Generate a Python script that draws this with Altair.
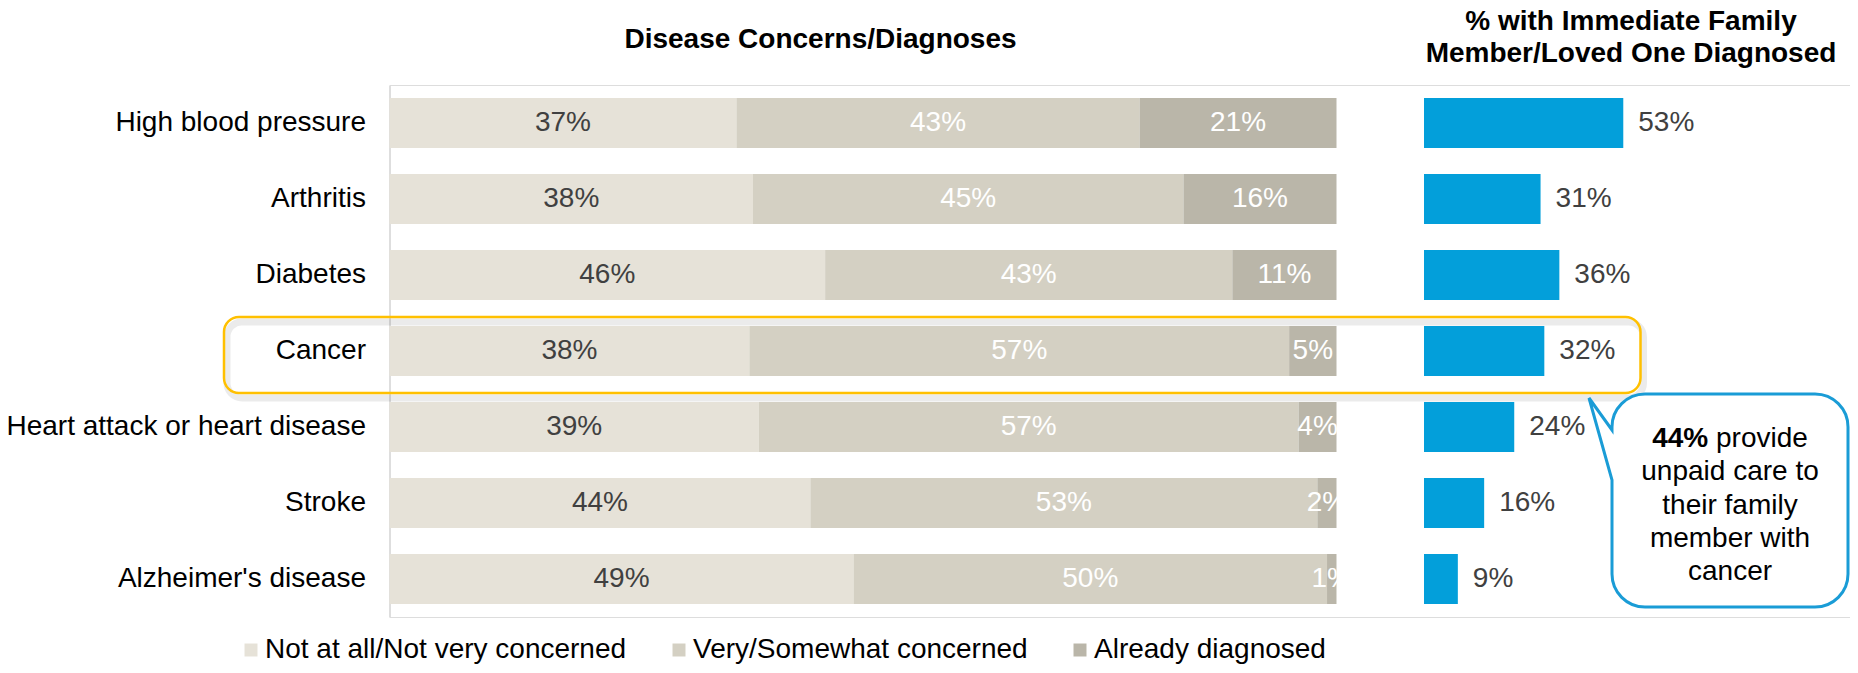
import altair as alt
import pandas as pd

FONT = "Liberation Sans"

# ---- data ----
diseases = ["High blood pressure", "Arthritis", "Diabetes", "Cancer",
            "Heart attack or heart disease", "Stroke", "Alzheimer's disease"]
not_concerned = [37, 38, 46, 38, 39, 44, 49]
concerned = [43, 45, 43, 57, 57, 53, 50]
diagnosed = [21, 16, 11, 5, 4, 2, 1]
family_diagnosed = [53, 31, 36, 32, 24, 16, 9]

series_names = ["Not at all/Not very concerned", "Very/Somewhat concerned", "Already diagnosed"]
series_colors = ["#E6E2D8", "#D4D0C3", "#BAB6A9"]

left_title = "Disease Concerns/Diagnoses"
right_title = "% with Immediate Family\nMember/Loved One Diagnosed"
callout_bold = "44%"
callout_first = "provide"
callout_rest = "unpaid care to\ntheir family\nmember with\ncancer"

# ---- tables ----
rows = []
for i, d in enumerate(diseases):
    for k, vals in enumerate([not_concerned, concerned, diagnosed]):
        rows.append({"disease": d, "series": series_names[k], "order": k, "value": vals[i]})
concern_df = pd.DataFrame(rows)
family_df = pd.DataFrame({"disease": diseases, "family": family_diagnosed})
one = pd.DataFrame({"k": [0]})

LEFT_RANGE = [0, 947]
RIGHT_RANGE = [1034.5, 1410.5]

y_enc = alt.Y(
    "disease:N", sort=diseases,
    scale=alt.Scale(paddingInner=0.342, paddingOuter=0.171),
    axis=alt.Axis(title=None, labelFont=FONT, labelFontSize=28, labelColor="#000000",
                  labelPadding=24, ticks=False, domainColor="#D9D9D9", domainWidth=1.5,
                  labelLimit=0, grid=False),
)

stack_bars = alt.Chart(concern_df).mark_bar().encode(
    x=alt.X("value:Q", stack="normalize",
            scale=alt.Scale(domain=[0, 1], range=LEFT_RANGE, nice=False), axis=None),
    y=y_enc,
    color=alt.Color(
        "series:N", sort=series_names,
        scale=alt.Scale(domain=series_names, range=series_colors),
        legend=alt.Legend(title=None, orient="none", legendX=-152.5, legendY=551,
                          direction="horizontal", symbolType="square", symbolSize=169,
                          symbolStrokeWidth=0, symbolOpacity=1, labelFont=FONT,
                          labelFontSize=28, labelColor="#000000", labelOffset=0,
                          columnPadding=38, padding=0, labelLimit=0),
    ),
    order=alt.Order("order:Q"),
)

stack_labels = alt.Chart(concern_df).transform_joinaggregate(
    total="sum(value)", groupby=["disease"]
).transform_window(
    cum="sum(value)", groupby=["disease"], sort=[alt.SortField("order", order="ascending")],
    frame=[None, 0]
).transform_calculate(
    mid="(datum.cum - datum.value / 2) / datum.total",
    lab="datum.value + '%'",
).mark_text(font=FONT, fontSize=28, baseline="middle", align="center").encode(
    x=alt.X("mid:Q", scale=alt.Scale(domain=[0, 1], range=LEFT_RANGE, nice=False), axis=None),
    y=y_enc,
    text="lab:N",
    color=alt.condition(alt.datum.order == 0, alt.value("#404040"), alt.value("#FFFFFF")),
)

fam_bars = alt.Chart(family_df).mark_bar(color="#039FDA").encode(
    x=alt.X("family:Q", scale=alt.Scale(domain=[0, 100], range=RIGHT_RANGE, nice=False), axis=None),
    y=y_enc,
)

fam_labels = alt.Chart(family_df).transform_calculate(
    lab="datum.family + '%'"
).mark_text(font=FONT, fontSize=28, align="left", baseline="middle", dx=15, color="#404040").encode(
    x=alt.X("family:Q", scale=alt.Scale(domain=[0, 100], range=RIGHT_RANGE, nice=False), axis=None),
    y=y_enc,
    text="lab:N",
)

# ---- highlight box around the Cancer row ----
shadow = alt.Chart(one).mark_rect(fillOpacity=0, stroke="#000000", strokeOpacity=0.08,
                                  strokeWidth=7, cornerRadius=15).encode(
    x=alt.value(-162.5), x2=alt.value(1254), y=alt.value(237), y2=alt.value(313))
orange = alt.Chart(one).mark_rect(fillOpacity=0, stroke="#FFC000", strokeWidth=2.5,
                                  cornerRadius=15).encode(
    x=alt.value(-165.5), x2=alt.value(1251), y=alt.value(232), y2=alt.value(308))

# ---- callout bubble ----
w, h, r = 236, 213, 33
bubble_path = (f"M 0 36 L -23 4 L 0 86 L 0 {h - r} A {r} {r} 0 0 0 {r} {h} "
               f"L {w - r} {h} A {r} {r} 0 0 0 {w} {h - r} L {w} {r} "
               f"A {r} {r} 0 0 0 {w - r} 0 L {r} 0 A {r} {r} 0 0 0 0 {r} Z")
bubble = alt.Chart(one).mark_point(shape=bubble_path, size=4, filled=True, fill="#FFFFFF",
                                   stroke="#1A9CD6", strokeWidth=3, opacity=1).encode(
    x=alt.value(1222.5), y=alt.value(309))

cx = 1222.5 + w / 2
c_bold = alt.Chart(one).mark_text(text=callout_bold, font=FONT, fontSize=28, fontWeight="bold",
                                  align="left", baseline="alphabetic", color="#000000").encode(
    x=alt.value(cx - 77.8), y=alt.value(362))
c_first = alt.Chart(one).mark_text(text=callout_first, font=FONT, fontSize=28,
                                   align="left", baseline="alphabetic", color="#000000").encode(
    x=alt.value(cx - 14), y=alt.value(362))
c_rest = alt.Chart(one).mark_text(text=callout_rest, lineBreak="\n", lineHeight=33.3, font=FONT,
                                  fontSize=28, align="center", baseline="alphabetic",
                                  color="#000000").encode(
    x=alt.value(cx), y=alt.value(395.3))

# ---- titles ----
t_left = alt.Chart(one).mark_text(text=left_title, font=FONT, fontSize=28, fontWeight="bold",
                                  align="center", baseline="alphabetic", color="#000000").encode(
    x=alt.value(431), y=alt.value(-37))
t_right = alt.Chart(one).mark_text(text=right_title, lineBreak="\n", lineHeight=32, font=FONT,
                                   fontSize=28, fontWeight="bold", align="center",
                                   baseline="alphabetic", color="#000000").encode(
    x=alt.value(1241.5), y=alt.value(-55))

chart = alt.layer(
    stack_bars, stack_labels, fam_bars, fam_labels, shadow, orange,
    bubble, c_bold, c_first, c_rest, t_left, t_right,
).resolve_scale(x="independent").properties(
    width=1460.5, height=532,
    padding={"left": 381.5, "top": 77, "right": 0, "bottom": 48},
    autosize=alt.AutoSizeParams(type="none"),
).configure_view(stroke=None).configure(font=FONT)

chart.save("out.html", embed_options={"renderer": "svg", "actions": False})
